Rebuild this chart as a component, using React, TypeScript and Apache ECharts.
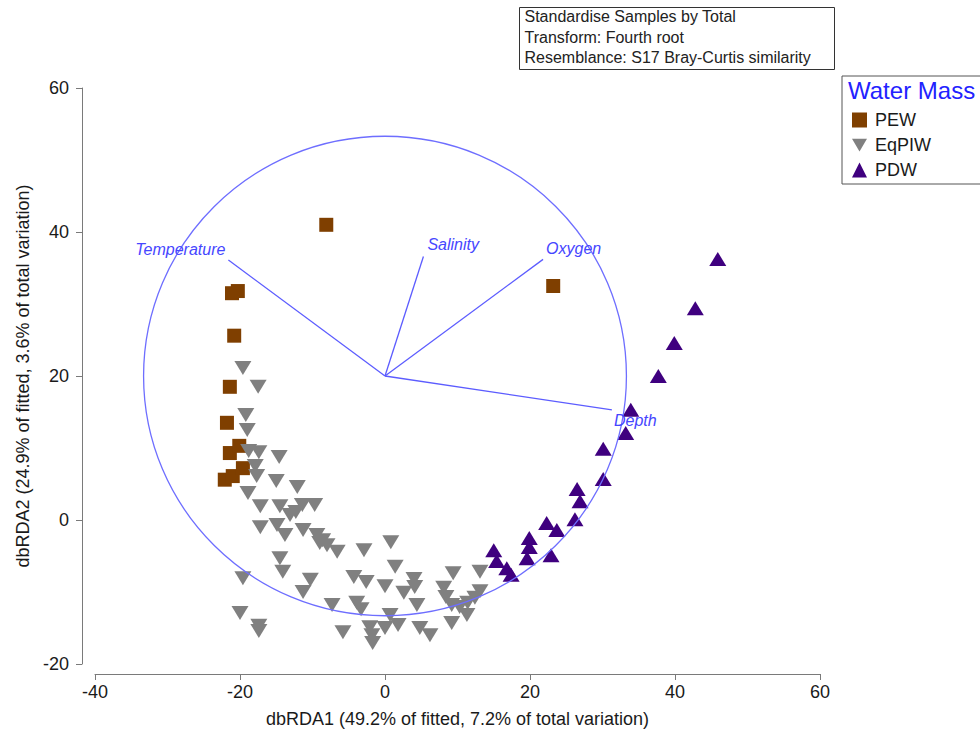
import React, { useEffect, useRef } from "react";
import * as echarts from "echarts";

// Sample scores on the first two dbRDA axes, grouped by water mass
const pewX = [-8.1, 23.2, -21.1, -20.3, -20.8, -21.4, -21.8, -21.4, -20.1, -22.1, -21.0, -19.6];
const pewY = [41.0, 32.5, 31.5, 31.8, 25.6, 18.5, 13.5, 9.3, 10.3, 5.6, 6.1, 7.2];

const eqpiwX = [
  -19.6, -17.5, -19.2, -19.0, -18.8, -17.4, -14.6, -17.9, -17.7, -15.0, -12.1, -18.9,
  -17.2, -14.5, -13.1, -11.4, -9.7, -12.3, -17.2, -14.9, -13.8, -11.3, -9.4, -8.6,
  -8.0, -6.6, -9.0, -2.9, 0.8, -14.5, -14.1, -19.6, -10.3, -11.3, -4.3, -2.6,
  1.4, 0.0, 4.0, 4.1, 9.4, 13.1, 8.1, 8.4, 2.6, -7.3, -3.9, -3.3,
  0.7, 4.4, 9.2, 10.3, 11.4, 12.4, 13.1, 11.3, 9.2, -20.0, -17.4, -17.4,
  -5.8, -2.1, -1.8, -1.7, 0.0, 1.8, 4.8, 6.2,
];
const eqpiwY = [
  21.1, 18.5, 14.6, 12.5, 9.6, 9.4, 8.75, 7.5, 6.1, 5.4, 4.6, 3.75,
  1.9, 1.9, 0.7, 2.1, 2.1, 1.1, -1.0, -0.7, -2.1, -1.4, -2.1, -2.8,
  -3.5, -4.4, -3.2, -4.2, -3.1, -5.3, -7.2, -8.1, -8.3, -10.0, -7.9, -8.6,
  -6.5, -9.2, -8.2, -9.3, -7.4, -7.2, -9.4, -10.7, -10.1, -11.8, -11.5, -12.4,
  -13.2, -11.8, -11.8, -12.1, -11.5, -10.8, -9.9, -13.2, -14.3, -12.9, -14.7, -15.4,
  -15.6, -14.9, -16.0, -17.1, -15.0, -14.6, -15.0, -16.0,
];

const pdwX = [
  45.9, 42.8, 39.9, 37.7, 33.9, 33.2, 30.1, 30.1, 26.5, 26.9, 26.2, 22.3,
  23.7, 19.9, 19.9, 19.6, 22.9, 15.0, 15.4, 16.8, 17.4,
];
const pdwY = [
  36.25, 29.4, 24.6, 20.0, 15.3, 12.1, 9.9, 5.7, 4.3, 2.6, 0.1, -0.4,
  -1.4, -2.5, -3.75, -5.3, -4.9, -4.2, -5.7, -6.7, -7.6,
];

// Environmental vectors (multiple partial correlations) drawn from the circle centre
const vectorNames = ["Temperature", "Salinity", "Oxygen", "Depth"];
const vectorX = [-21.6, 5.3, 21.8, 31.3];
const vectorY = [36.1, 36.6, 36.2, 15.3];
const circleCentre = [0, 20];
const circleRadius = [33.3];

const xTicks = { min: -40, max: 60, interval: 20 };
const yTicks = { min: -20, max: 60, interval: 20 };

const infoLines = [
  "Standardise Samples by Total",
  "Transform: Fourth root",
  "Resemblance: S17 Bray-Curtis similarity",
];

const FONT = '"Liberation Sans", Arial, sans-serif';
const VEC_COLOR = "#5c5cff";
const VEC_TEXT = "#4646ff";

// label placement relative to each vector's tip
const labelPlacement = [
  { dx: -3, dy: -11, align: "right" },
  { dx: 4, dy: -12, align: "left" },
  { dx: 3, dy: -11, align: "left" },
  { dx: 2, dy: 11, align: "left" },
];

const zip = (xs: number[], ys: number[]) => xs.map((x, i) => [x, ys[i]]);

const downTriangle = "path://M0,0 L10,0 L5,8.5 Z";

export default function App() {
  const ref = useRef<HTMLDivElement>(null);

  useEffect(() => {
    if (!ref.current) return;
    const chart = echarts.init(ref.current, null, { renderer: "svg" });

    const option: any = {
      animation: false,
      backgroundColor: "#ffffff",
      textStyle: { fontFamily: FONT },
      grid: { left: 95, right: 160, top: 88, bottom: 72, containLabel: false },
      xAxis: {
        type: "value",
        min: xTicks.min,
        max: xTicks.max,
        interval: xTicks.interval,
        offset: 10,
        name: "dbRDA1 (49.2% of fitted, 7.2% of total variation)",
        nameLocation: "middle",
        nameGap: 36,
        nameTextStyle: { fontSize: 18, color: "#1a1a1a", fontFamily: FONT },
        axisLine: { show: true, onZero: false, lineStyle: { color: "#7a7a7a", width: 1 } },
        axisTick: { show: true, length: 6, lineStyle: { color: "#7a7a7a" } },
        axisLabel: { fontSize: 18, color: "#1a1a1a", margin: 9, fontFamily: FONT },
        splitLine: { show: false },
      },
      yAxis: {
        type: "value",
        min: yTicks.min,
        max: yTicks.max,
        interval: yTicks.interval,
        offset: 13,
        name: "dbRDA2 (24.9% of fitted, 3.6% of total variation)",
        nameLocation: "middle",
        nameGap: 50,
        nameRotate: 90,
        nameTextStyle: { fontSize: 18, color: "#1a1a1a", fontFamily: FONT },
        axisLine: { show: true, onZero: false, lineStyle: { color: "#7a7a7a", width: 1 } },
        axisTick: { show: true, length: 6, lineStyle: { color: "#7a7a7a" } },
        axisLabel: { fontSize: 18, color: "#1a1a1a", margin: 13, fontFamily: FONT },
        splitLine: { show: false },
      },
      legend: {
        orient: "vertical",
        left: 847,
        top: 105,
        itemWidth: 15,
        itemHeight: 15,
        itemGap: 5,
        selectedMode: false,
        textStyle: { fontSize: 18, color: "#1a1a1a", lineHeight: 20, fontFamily: FONT, padding: [0, 0, 0, 3] },
        data: [
          { name: "PEW", icon: "rect" },
          { name: "EqPIW", icon: downTriangle },
          { name: "PDW", icon: "triangle" },
        ],
      },
      graphic: [
        {
          type: "group",
          left: 519,
          top: 7,
          children: [
            {
              type: "rect",
              shape: { x: 0, y: 0, width: 315, height: 62 },
              style: { fill: "#ffffff", stroke: "#333333", lineWidth: 1 },
            },
            ...infoLines.map((t, i) => ({
              type: "text",
              x: 5,
              y: 9 + i * 20.5,
              style: { text: t, font: `16px ${FONT}`, fill: "#222222", verticalAlign: "middle" },
            })),
          ],
        },
        {
          type: "rect",
          shape: { x: 842, y: 76, width: 160, height: 108 },
          style: { fill: "none", stroke: "#555555", lineWidth: 1 },
          z: 1,
        },
        {
          type: "text",
          x: 848,
          y: 90,
          style: { text: "Water Mass", font: `24px ${FONT}`, fill: "#2222ff", verticalAlign: "middle" },
        },
      ],
      series: [
        {
          name: "PEW",
          type: "scatter",
          symbol: "rect",
          symbolSize: 14,
          itemStyle: { color: "#7f3f00", opacity: 1 },
          data: zip(pewX, pewY),
          z: 2,
        },
        {
          name: "EqPIW",
          type: "scatter",
          symbol: downTriangle,
          symbolSize: [17, 14],
          itemStyle: { color: "#808080", opacity: 1 },
          data: zip(eqpiwX, eqpiwY),
          z: 3,
        },
        {
          name: "PDW",
          type: "scatter",
          symbol: "triangle",
          symbolSize: [17, 14],
          itemStyle: { color: "#3f007f", opacity: 1 },
          data: zip(pdwX, pdwY),
          z: 4,
        },
        {
          name: "circle",
          type: "custom",
          clip: false,
          silent: true,
          z: 5,
          data: [[circleCentre[0], circleCentre[1], circleRadius[0]]],
          encode: { x: 0, y: 1 },
          renderItem: (_params: any, api: any) => {
            const c = api.coord([api.value(0), api.value(1)]);
            const r = api.value(2);
            const rx = api.size([r, 0])[0];
            const ry = api.size([0, r])[1];
            return {
              type: "ellipse",
              shape: { cx: c[0], cy: c[1], rx, ry },
              style: { fill: "none", stroke: "#6e6eff", lineWidth: 1.3 },
            };
          },
        },
        {
          name: "vectors",
          type: "custom",
          clip: false,
          silent: true,
          z: 6,
          data: vectorNames.map((_n, i) => [circleCentre[0], circleCentre[1], vectorX[i], vectorY[i]]),
          encode: { x: [0, 2], y: [1, 3] },
          renderItem: (params: any, api: any) => {
            const o = api.coord([api.value(0), api.value(1)]);
            const e = api.coord([api.value(2), api.value(3)]);
            const p = labelPlacement[params.dataIndex];
            return {
              type: "group",
              children: [
                {
                  type: "line",
                  shape: { x1: o[0], y1: o[1], x2: e[0], y2: e[1] },
                  style: { stroke: VEC_COLOR, lineWidth: 1.3 },
                },
                {
                  type: "text",
                  x: e[0] + p.dx,
                  y: e[1] + p.dy,
                  style: {
                    text: vectorNames[params.dataIndex],
                    font: `italic 16px ${FONT}`,
                    fill: VEC_TEXT,
                    align: p.align,
                    verticalAlign: "middle",
                  },
                },
              ],
            };
          },
        },
      ],
    };

    chart.setOption(option);
    return () => chart.dispose();
  }, []);

  return (
    <div
      ref={ref}
      style={{ position: "absolute", left: 0, top: 0, width: 980, height: 736, background: "#fff" }}
    />
  );
}
